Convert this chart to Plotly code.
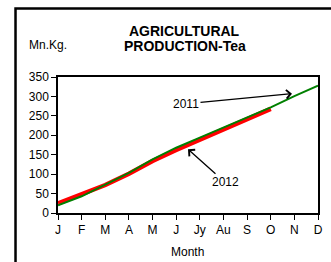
import plotly.graph_objects as go

months = ["J", "F", "M", "A", "M", "J", "Jy", "Au", "S", "O", "N", "D"]
prod_2011 = [20, 43, 73, 103, 138, 168, 194, 220, 246, 272, 301, 328]
prod_2012 = [25, 47, 72, 101, 134, 162, 188, 214, 240, 268]
y_ticks = [0, 50, 100, 150, 200, 250, 300, 350]

xs = list(range(len(months)))
FONT = "Liberation Sans, Arial, sans-serif"

fig = go.Figure()
fig.add_trace(go.Scatter(x=xs[:len(prod_2012)], y=prod_2012, mode="lines",
                         line=dict(color="#ff0000", width=4.5), name="2012"))
fig.add_trace(go.Scatter(x=xs, y=prod_2011, mode="lines",
                         line=dict(color="#008000", width=2), name="2011"))

fig.update_layout(
    width=331, height=262,
    margin=dict(l=58, r=8, t=77, b=49),
    paper_bgcolor="white", plot_bgcolor="white",
    showlegend=False,
    font=dict(family=FONT, size=12, color="black"),
    xaxis=dict(range=[0, 11], tickvals=xs, ticktext=months, showgrid=False,
               zeroline=False, showline=True, linecolor="black", linewidth=1.5,
               mirror=True, ticks="outside", ticklen=5, tickcolor="black",
               tickwidth=1.2, tickfont=dict(size=12)),
    yaxis=dict(range=[0, 350], tickvals=y_ticks, showgrid=False, zeroline=False,
               showline=True, linecolor="black", linewidth=1.5, mirror=True,
               ticks="outside", ticklen=5, tickcolor="black", tickwidth=1.2,
               tickfont=dict(size=12)),
)

# outer frame (clipped at right and bottom)
fig.add_shape(type="rect", xref="paper", yref="paper",
              x0=(14.7 - 58) / 265, x1=(345 - 58) / 265,
              y0=(213 - 275) / 136, y1=(213 - 8.5) / 136,
              line=dict(color="black", width=2.5), layer="above")

def ann(text, px, py, size=12, bold=False):
    fig.add_annotation(text=("<b>%s</b>" % text) if bold else text,
                       xref="paper", yref="paper",
                       x=(px - 58) / 265, y=(213 - py) / 136,
                       xanchor="center", yanchor="middle", showarrow=False,
                       font=dict(size=size, family=FONT, color="black"))

ann("AGRICULTURAL", 187, 31, 14, True)
ann("PRODUCTION-Tea", 187.5, 46.5, 14, True)
ann("Mn.Kg.", 47.5, 45, 12)
ann("Month", 190.3, 252, 12)

fig.add_annotation(text="2011", x=9.9, y=307, xref="x", yref="y",
                   ax=-106, ay=10, showarrow=True, arrowhead=4, arrowsize=1.3,
                   arrowwidth=1.3, arrowcolor="black",
                   font=dict(size=12, family=FONT, color="black"))
fig.add_annotation(text="2012", x=5.5, y=164, xref="x", yref="y",
                   ax=37, ay=33, showarrow=True, arrowhead=4, arrowsize=1.3,
                   arrowwidth=1.3, arrowcolor="black",
                   font=dict(size=12, family=FONT, color="black"))

fig.write_html("out.html", config={"displayModeBar": False},
               post_script="document.body.style.margin='0px';document.body.style.overflow='hidden';")
